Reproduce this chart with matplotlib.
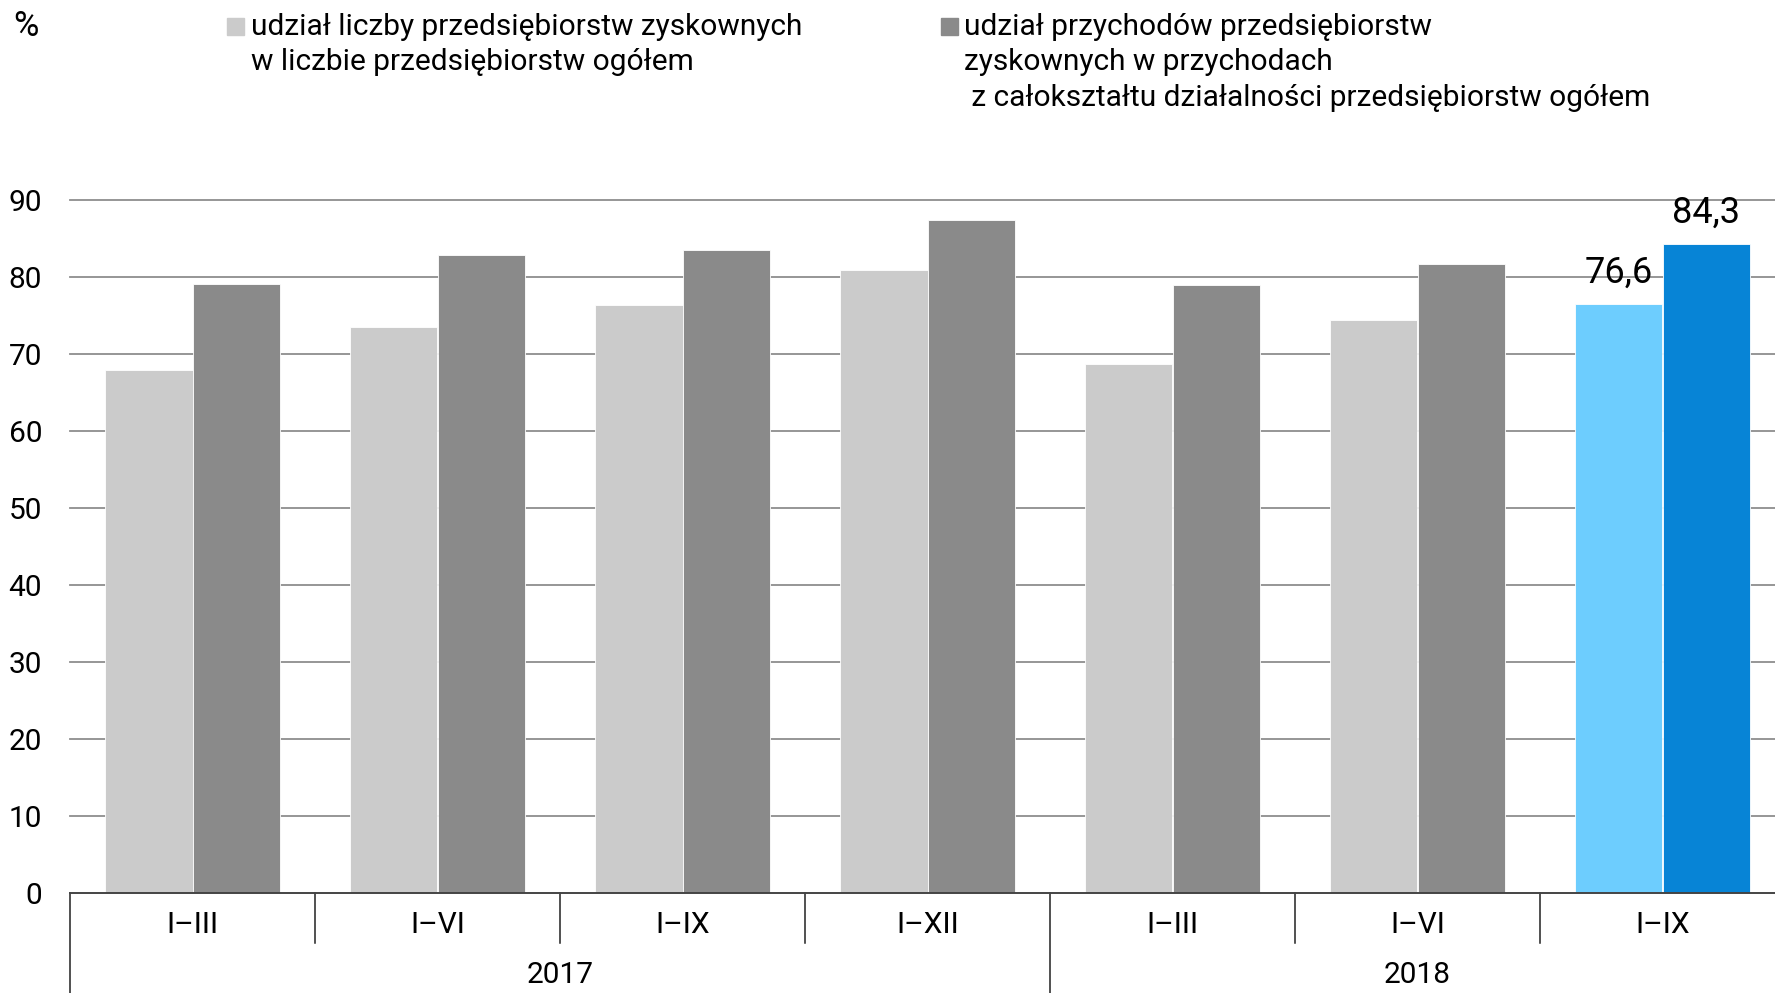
import matplotlib
matplotlib.use("Agg")
import matplotlib.pyplot as plt
import matplotlib.transforms as mtransforms

plt.rcParams['font.family'] = ['Roboto', 'DejaVu Sans']

periods = ["I–III", "I–VI", "I–IX", "I–XII", "I–III", "I–VI", "I–IX"]
years = ["2017", "2018"]
year_spans = [(0, 3), (4, 6)]
share_count = [67.9, 73.5, 76.4, 81.0, 68.8, 74.5, 76.6]
share_revenue = [79.2, 82.9, 83.5, 87.5, 79.0, 81.8, 84.3]
yticks = [0, 10, 20, 30, 40, 50, 60, 70, 80, 90]
legend_count = "udział liczby przedsiębiorstw zyskownych\nw liczbie przedsiębiorstw ogółem"
legend_revenue = ("udział przychodów przedsiębiorstw\nzyskownych w przychodach\n"
                  " z całokształtu działalności przedsiębiorstw ogółem")

light_grey = "#cbcbcb"
dark_grey = "#8a8a8a"
light_blue = "#6dcdfe"
blue = "#0784d6"

FS = 21.5
W, H = 1775, 993
fig = plt.figure(figsize=(W / 100, H / 100), dpi=100)
ax = fig.add_axes([70 / W, 100 / H, 1715 / W, 692.6 / H])

n = len(periods)
x = list(range(n))
bw = 0.358
c_count = [light_grey] * (n - 1) + [light_blue]
c_rev = [dark_grey] * (n - 1) + [blue]
ax.bar([i - bw / 2 for i in x], share_count, width=bw, color=c_count,
       edgecolor="white", linewidth=0.6, zorder=3)
ax.bar([i + bw / 2 for i in x], share_revenue, width=bw, color=c_rev,
       edgecolor="white", linewidth=0.6, zorder=3)

ax.set_xlim(-0.5, n - 0.5)
ax.set_ylim(0, 90)
for s in ax.spines.values():
    s.set_visible(False)
for t in yticks[1:]:
    ax.axhline(t, color="#8e8e8e", linewidth=1.3, zorder=1, clip_on=False)
ax.axhline(0, color="#444444", linewidth=1.4, zorder=4, clip_on=False)

ax.set_yticks(yticks)
ax.set_yticklabels([str(t) for t in yticks], fontsize=FS)
ax.tick_params(axis="y", length=0, pad=20)
ax.set_xticks([])

# value labels on the latest period
last = n - 1
ax.text(last - bw / 2, share_count[last] + 1.7, f"{share_count[last]:.1f}".replace(".", ","),
        ha="center", va="bottom", fontsize=26, zorder=5)
ax.text(last + bw / 2, share_revenue[last] + 1.7, f"{share_revenue[last]:.1f}".replace(".", ","),
        ha="center", va="bottom", fontsize=26, zorder=5)

# two-level category axis
trans = mtransforms.blended_transform_factory(ax.transData, ax.transAxes)
short = -50 / 692.6
long_ = -100 / 692.6
for i, p in enumerate(periods):
    ax.text(i, -32 / 692.6, p, transform=trans, ha="center", va="center", fontsize=FS)
boundaries = [s for s, e in year_spans]
for b in range(n):
    xb = b - 0.5
    y_end = long_ if b in boundaries else short
    ax.plot([xb, xb], [0, y_end], transform=trans, color="#222222",
            linewidth=1.1, clip_on=False)
for (s, e), yr in zip(year_spans, years):
    ax.text((s + e) / 2, -82 / 692.6, yr, transform=trans, ha="center",
            va="center", fontsize=FS)

# legend and unit
fig.text(13 / W, 1 - 26 / H, "%", ha="left", va="center", fontsize=25)
fig.patches.append(plt.Rectangle((227 / W, 1 - 35 / H), 17 / W, 17 / H,
                                 transform=fig.transFigure, color=light_grey))
fig.text(251 / W, 1 - 13 / H, legend_count, ha="left", va="top",
         fontsize=FS, linespacing=1.33, transform=fig.transFigure)
fig.patches.append(plt.Rectangle((941 / W, 1 - 35 / H), 17 / W, 17 / H,
                                 transform=fig.transFigure, color=dark_grey))
fig.text(964 / W, 1 - 13 / H, legend_revenue, ha="left", va="top",
         fontsize=FS, linespacing=1.33, transform=fig.transFigure)

fig.savefig("out.png", dpi=100)
